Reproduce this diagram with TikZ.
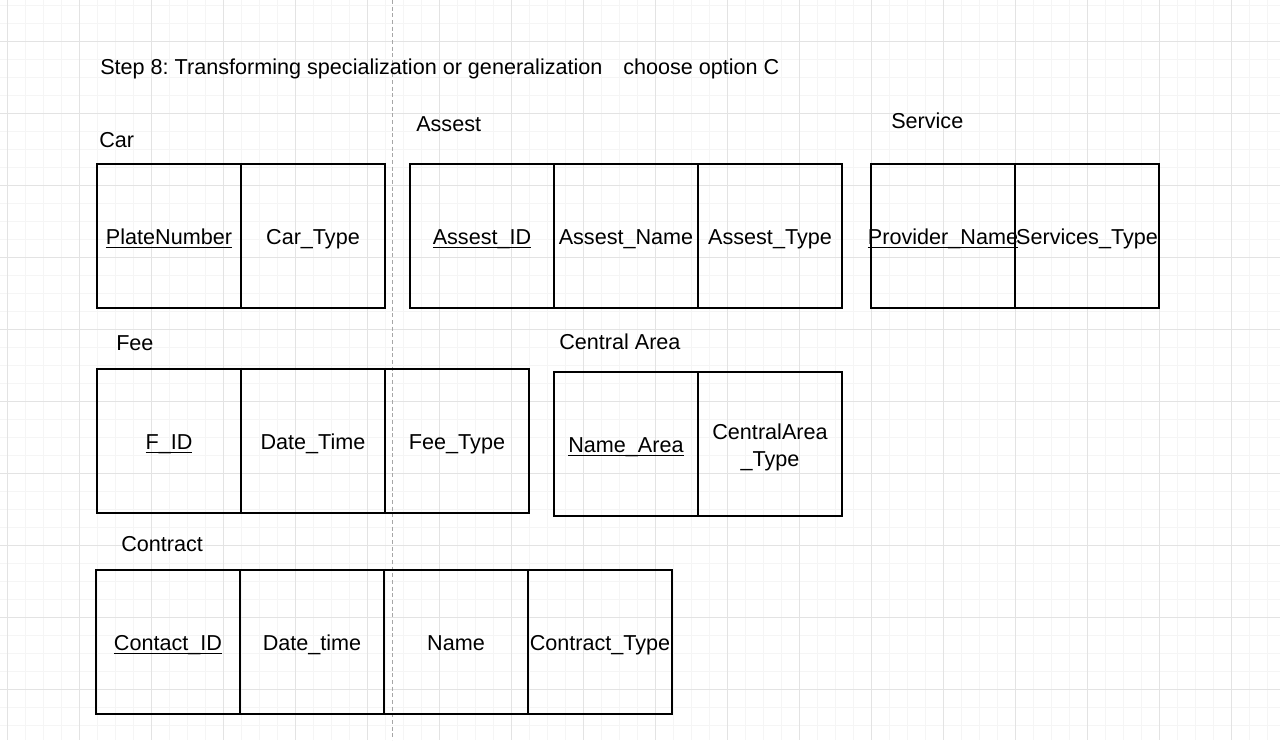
\documentclass[tikz,border=0pt]{standalone}
\usepackage{fontspec}
\setmainfont{Liberation Sans}
\frenchspacing
\definecolor{gridminor}{HTML}{F5F5F5}
\definecolor{gridmajor}{HTML}{E3E3E3}
\newcommand\myul[1]{\setbox0=\hbox{#1}\rlap{\rule[-2.4pt]{\wd0}{0.9pt}}\box0}
\tikzset{
  cellbox/.style={draw=black, line width=1.5pt, minimum width=108pt, minimum height=108pt,
    inner sep=0pt, font=\fontsize{16.2}{18}\selectfont, align=center},
  cell/.style={cellbox, text height=13.1pt, text depth=0pt},
  tlabel/.style={anchor=west, inner sep=0pt, font=\fontsize{16.2}{18}\selectfont,
    text height=11.6pt, text depth=0pt},
  ctext/.style={inner sep=0pt, font=\fontsize{16.2}{20.3}\selectfont, align=center},
}
\begin{document}
\begin{tikzpicture}[x=0.75pt, y=-0.75pt]
\useasboundingbox (0,0) rectangle (1280,740);
\fill[white] (0,0) rectangle (1280,740);
% grid
\foreach \x in {7.5,25.5,...,1280} \draw[gridminor, line width=0.75pt] (\x,0) -- (\x,740);
\foreach \y in {5.3,23.3,...,740} \draw[gridminor, line width=0.75pt] (0,\y) -- (1280,\y);
\foreach \x in {7.5,79.5,...,1280} \draw[gridmajor, line width=0.75pt] (\x,0) -- (\x,740);
\foreach \y in {41.3,113.3,...,740} \draw[gridmajor, line width=0.75pt] (0,\y) -- (1280,\y);
\coordinate (dtop) at (392.5,0);
\coordinate (dbot) at (392.5,740);
\draw[black!35, dash pattern=on 3pt off 2pt, line width=0.6pt] (dtop) -- (dbot);

% titles
\node[tlabel] (title) at (100,66.5) {Step 8: Transforming specialization or generalization};
\node[tlabel] (opt) at (623,66.5) {choose option C};
\node[tlabel] (lcar) at (99,139.7) {Car};
\node[tlabel] (lass) at (416,123.5) {Assest};
\node[tlabel] (lser) at (891,120.5) {Service};
\node[tlabel] (lfee) at (116,342.5) {Fee};
\node[tlabel] (lcen) at (559,341.5) {Central Area};
\node[tlabel] (lcon) at (121,543.5) {Contract};

% Car
\node[cell] (car1) at (169,236) {\myul{PlateNumber}};
\node[cell] (car2) at (313,236) {Car\_Type};
% Assest
\node[cell] (as1) at (482,236) {\myul{Assest\_ID}};
\node[cell] (as2) at (626,236) {Assest\_Name};
\node[cell] (as3) at (770,236) {Assest\_Type};
% Service
\node[cell] (se1) at (943,236) {\makebox[0pt]{\myul{Provider\_Name}}};
\node[cell] (se2) at (1087,236) {\makebox[0pt]{Services\_Type}};
% Fee
\node[cell] (fe1) at (169,441) {\myul{F\_ID}};
\node[cell] (fe2) at (313,441) {Date\_Time};
\node[cell] (fe3) at (457,441) {Fee\_Type};
% Central Area
\node[cell] (ce1) at (626,444) {\myul{Name\_Area}};
\node[cellbox] (ce2) at (770,444) {};
\node[ctext] (ce2t) at ([yshift=-2.25pt]ce2.center) {CentralArea\\\_Type};
% Contract
\node[cell] (co1) at (168,642) {\myul{Contact\_ID}};
\node[cell] (co2) at (312,642) {Date\_time};
\node[cell] (co3) at (456,642) {Name};
\node[cell] (co4) at (600,642) {\makebox[0pt]{Contract\_Type}};
\end{tikzpicture}
\end{document}
